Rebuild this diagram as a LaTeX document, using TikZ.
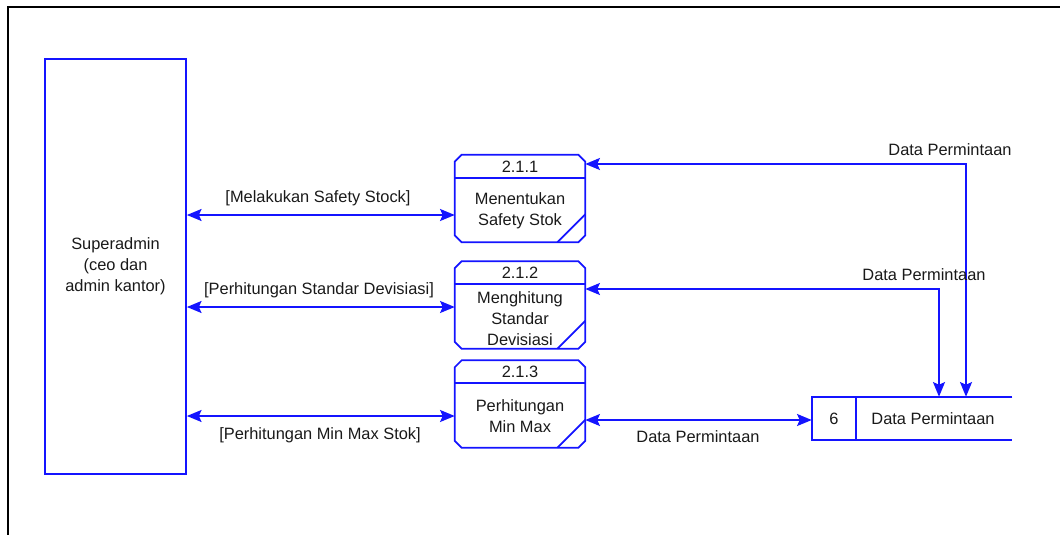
\documentclass[tikz,border=0pt]{standalone}
\usepackage{fontspec}
\setmainfont{Liberation Sans}
\usepackage{tikz}
\usetikzlibrary{arrows.meta,positioning,calc}
\definecolor{dfdblue}{RGB}{20,20,255}

\begin{document}
\begin{tikzpicture}[x=0.75pt,y=-0.75pt,
  flow/.style={draw=dfdblue,line width=1.3pt},
  both/.style={flow,{Stealth[length=11pt,width=9pt,inset=2pt]}-{Stealth[length=11pt,width=9pt,inset=2pt]}},
  lbl/.style={font=\fontsize{12.3}{15.75}\selectfont,text=black!90,inner sep=1pt},
  procbox/.style={rectangle,inner sep=0pt,minimum width=97.5pt,minimum height=65.25pt}]
  \clip (0,0) rectangle (1060,535);
  \draw[line width=2.2pt] (8,545) -- (8,7) -- (1070,7);

  % external entity
  \node[flow,lbl,rectangle,align=center,minimum width=105.75pt,minimum height=311.25pt] (sa) at (115.5,266.5)
    {Superadmin\\(ceo dan\\admin kantor)};

  % processes
  \node[procbox] (p1) at (520,198.5) {};
  \node[procbox] (p2) at (520,305) {};
  \node[procbox] (p3) at (520,404) {};
  \foreach \p in {p1,p2,p3}{
    \draw[flow] ($(\p.north west)+(7,0)$) -- ($(\p.north east)+(-7,0)$) -- ($(\p.north east)+(0,7)$)
      -- ($(\p.south east)+(0,-7)$) -- ($(\p.south east)+(-7,0)$) -- ($(\p.south west)+(7,0)$)
      -- ($(\p.south west)+(0,-7)$) -- ($(\p.north west)+(0,7)$) -- cycle;
    \draw[flow] ($(\p.north west)+(0,23)$) -- ($(\p.north east)+(0,23)$);
    \draw[flow] ($(\p.south east)+(-28,0)$) -- ($(\p.south east)+(0,-28)$);
  }
  \node[lbl] (p1num) at ($(p1.north)+(0,12)$) {2.1.1};
  \node[lbl] (p2num) at ($(p2.north)+(0,12)$) {2.1.2};
  \node[lbl] (p3num) at ($(p3.north)+(0,12)$) {2.1.3};
  \node[lbl,align=center] (p1txt) at ($(p1.north)+(0,56)$) {Menentukan\\Safety Stok};
  \node[lbl,align=center] (p2txt) at ($(p2.north)+(0,57)$) {Menghitung\\Standar\\Devisiasi};
  \node[lbl,align=center] (p3txt) at ($(p3.north)+(0,56)$) {Perhitungan\\Min Max};

  % data store
  \node[rectangle,inner sep=0pt,minimum width=150pt,minimum height=32.25pt] (ds) at (912,418.5) {};
  \draw[flow] (ds.north east) -- (ds.north west) -- (ds.south west) -- (ds.south east);
  \draw[flow] ($(ds.north west)+(44,0)$) -- ($(ds.south west)+(44,0)$);
  \node[lbl] (dsnum) at (834,419) {6};
  \node[lbl] (dsname) at (933,419) {Data Permintaan};

  % flows
  \coordinate (c1) at (966,164);
  \coordinate (c2) at (939,289);
  \draw[both] (sa.east |- 0,215) -- (p1.west |- 0,215);
  \draw[both] (sa.east |- 0,307) -- (p2.west |- 0,307);
  \draw[both] (sa.east |- 0,416) -- (p3.west |- 0,416);
  \draw[both] (p3.east |- 0,420) -- (ds.west |- 0,420);
  \draw[both] (p1.east |- c1) -- (c1) -- (ds.north -| c1);
  \draw[both] (p2.east |- c2) -- (c2) -- (ds.north -| c2);

  \node[lbl] (f1) at (318,198) {[Melakukan Safety Stock]};
  \node[lbl] (f2) at (319,290) {[Perhitungan Standar Devisiasi]};
  \node[lbl] (f3) at (320,435) {[Perhitungan Min Max Stok]};
  \node[lbl] (f4) at (698,437) {Data Permintaan};
  \node[lbl] (f5) at (950,150) {Data Permintaan};
  \node[lbl] (f6) at (924,275) {Data Permintaan};
\end{tikzpicture}
\end{document}
